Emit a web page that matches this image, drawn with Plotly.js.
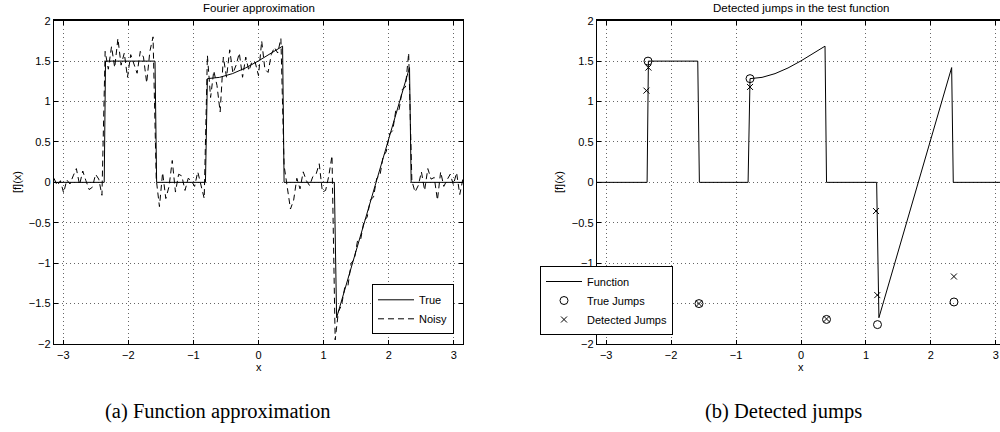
<!DOCTYPE html>
<html>
<head>
<meta charset="utf-8">
<script src="https://cdn.plot.ly/plotly-3.0.1.min.js"></script>
<style>
  html, body { margin: 0; padding: 0; background: #fff; overflow: hidden; }
  #chart { width: 1010px; height: 432px; }
</style>
</head>
<body>
<div id="chart"></div>
<script>
// ---- Data ----
// True test function (vertices of the piecewise curve)
const trueX = [-3.142, -2.37, -2.35, -1.59, -1.565, -0.815, -0.785, -0.6, -0.4, -0.2, 0.0, 0.2, 0.37, 0.393, 1.165, 1.2, 2.32, 2.345, 3.142];
const trueY = [0, 0, 1.5, 1.5, 0, 0, 1.283, 1.299, 1.345, 1.415, 1.503, 1.6, 1.685, 0, 0, -1.675, 1.42, 0, 0];

// Noisy samples
const noisyX = [
  -3.142, -3.092, -3.043, -2.994, -2.945, -2.896, -2.847, -2.798, -2.749, -2.700, -2.651, -2.601, -2.552, -2.503, -2.454, -2.405,
  -2.356, -2.307, -2.258, -2.209, -2.160, -2.111, -2.062, -2.013, -1.963, -1.914, -1.865, -1.816, -1.767, -1.718, -1.669, -1.620,
  -1.571, -1.522, -1.473, -1.424, -1.374, -1.325, -1.276, -1.227, -1.178, -1.129, -1.080, -1.031, -0.982, -0.933, -0.884, -0.834,
  -0.785, -0.736, -0.687, -0.638, -0.589, -0.540, -0.491, -0.442, -0.393, -0.344, -0.295, -0.245, -0.196, -0.147, -0.098, -0.049,
  0.000, 0.049, 0.098, 0.147, 0.196, 0.245, 0.295, 0.344,
  0.393, 0.442, 0.491, 0.540, 0.589, 0.638, 0.687, 0.736, 0.785, 0.834, 0.884, 0.933, 0.982, 1.031, 1.080, 1.129,
  1.178, 1.227, 1.276, 1.325, 1.374, 1.424, 1.473, 1.522, 1.571, 1.620, 1.669, 1.718, 1.767, 1.816, 1.865, 1.914,
  1.963, 2.013, 2.062, 2.111, 2.160, 2.209, 2.258, 2.307,
  2.356, 2.405, 2.454, 2.503, 2.552, 2.601, 2.651, 2.700, 2.749, 2.798, 2.847, 2.896, 2.945, 2.994, 3.043, 3.092, 3.142
];
const noisyY = [
  0.05, -0.04, 0.02, -0.13, 0.03, -0.02, 0.08, 0.17, -0.03, 0.14, 0.02, -0.09, -0.06, 0.10, 0.04, -0.16,
  1.62, 1.40, 1.68, 1.42, 1.78, 1.45, 1.60, 1.30, 1.58, 1.45, 1.35, 1.62, 1.55, 1.23, 1.62, 1.80,
  0.04, -0.30, 0.12, -0.20, -0.05, 0.27, -0.12, 0.10, 0.08, -0.10, 0.05, 0.02, -0.05, 0.13, -0.04, -0.20,
  1.57, 1.05, 1.38, 1.20, 0.87, 1.55, 1.30, 1.64, 1.35, 1.45, 1.60, 1.30, 1.55, 1.38, 1.50, 1.48,
  1.32, 1.75, 1.40, 1.36, 1.58, 1.67, 1.60, 1.78,
  0.21, -0.05, -0.33, -0.22, 0.05, -0.08, 0.13, 0.02, -0.04, 0.07, 0.10, 0.23, -0.12, -0.10, 0.08, 0.33,
  -1.95, -1.60, -1.52, -1.30, -1.28, -1.00, -0.95, -0.72, -0.70, -0.48, -0.43, -0.22, -0.18, 0.05, 0.08, 0.32,
  0.38, 0.60, 0.64, 0.90, 0.90, 1.15, 1.18, 1.60,
  0.02, -0.12, -0.04, 0.13, -0.10, 0.17, 0.04, 0.06, -0.22, 0.13, -0.05, 0.03, 0.10, -0.03, 0.12, -0.15, 0.05
];

// True jump locations and heights
const jumpX = [-2.356, -1.571, -0.785, 0.393, 1.178, 2.356];
const jumpY = [1.5, -1.5, 1.283, -1.696, -1.76, -1.48];

// Detected jumps
const detX = [-2.35, -2.38, -1.571, -0.785, 0.393, 1.155, 1.175, 2.355];
const detY = [1.42, 1.135, -1.5, 1.18, -1.69, -0.355, -1.395, -1.165];

const xTickVals = [-3, -2, -1, 0, 1, 2, 3];
const yTickVals = [-2, -1.5, -1, -0.5, 0, 0.5, 1, 1.5, 2];

// ---- Layout helpers ----
const W = 1010, H = 432;
const px = v => v / W;
const py = v => (H - v) / H;
const FONT = 'Liberation Sans, Arial, Helvetica, sans-serif';
const SERIF = 'Liberation Serif, Times New Roman, serif';

function axisBase(range, ticks) {
  return {
    range: range,
    tickmode: 'array',
    tickvals: ticks,
    ticks: 'inside',
    ticklen: 4,
    tickwidth: 1,
    tickcolor: '#000',
    showline: true,
    linecolor: '#000',
    linewidth: 1.3,
    mirror: 'ticks',
    showgrid: true,
    gridcolor: '#666',
    gridwidth: 1,
    griddash: '1px,3px',
    zeroline: false,
    fixedrange: true,
    tickfont: { family: FONT, size: 11, color: '#000' }
  };
}

const xr = [-Math.PI, Math.PI];
const yr = [-2, 2];
const yTop = py(20.7), yBot = py(344);

const layout = {
  width: W, height: H,
  margin: { l: 0, r: 0, t: 0, b: 0, pad: 0 },
  paper_bgcolor: '#fff',
  plot_bgcolor: '#fff',
  font: { family: FONT, size: 11, color: '#000' },
  xaxis: Object.assign(axisBase(xr, xTickVals), { domain: [px(54), px(463)], anchor: 'y' }),
  yaxis: Object.assign(axisBase(yr, yTickVals), { domain: [yBot, yTop], anchor: 'x' }),
  xaxis2: Object.assign(axisBase(xr, xTickVals), { domain: [px(597), px(1005)], anchor: 'y2' }),
  yaxis2: Object.assign(axisBase(yr, yTickVals), { domain: [yBot, yTop], anchor: 'x2' }),
  legend: {
    x: px(454), xanchor: 'right', y: py(334.3), yanchor: 'bottom',
    bgcolor: '#fff', bordercolor: '#000', borderwidth: 1,
    font: { family: FONT, size: 11, color: '#000' },
    itemwidth: 36,
    tracegroupgap: 0
  },
  legend2: {
    x: px(540), xanchor: 'left', y: py(335), yanchor: 'bottom',
    bgcolor: '#fff', bordercolor: '#000', borderwidth: 1,
    font: { family: FONT, size: 11, color: '#000' },
    itemwidth: 36,
    tracegroupgap: 0
  },
  showlegend: true,
  annotations: [
    { text: 'Fourier approximation', x: px(258.5), y: py(7.5), xref: 'paper', yref: 'paper',
      xanchor: 'center', yanchor: 'middle', showarrow: false, font: { family: FONT, size: 11.5, color: '#000' } },
    { text: 'Detected jumps in the test function', x: px(801), y: py(7.5), xref: 'paper', yref: 'paper',
      xanchor: 'center', yanchor: 'middle', showarrow: false, font: { family: FONT, size: 11.5, color: '#000' } },
    { text: '[f](x)', x: px(17), y: py(182), xref: 'paper', yref: 'paper', textangle: -90,
      xanchor: 'center', yanchor: 'middle', showarrow: false, font: { family: FONT, size: 11, color: '#000' } },
    { text: '[f](x)', x: px(559), y: py(182), xref: 'paper', yref: 'paper', textangle: -90,
      xanchor: 'center', yanchor: 'middle', showarrow: false, font: { family: FONT, size: 11, color: '#000' } },
    { text: 'x', x: px(258.5), y: py(367), xref: 'paper', yref: 'paper',
      xanchor: 'center', yanchor: 'middle', showarrow: false, font: { family: FONT, size: 11, color: '#000' } },
    { text: 'x', x: px(801), y: py(367), xref: 'paper', yref: 'paper',
      xanchor: 'center', yanchor: 'middle', showarrow: false, font: { family: FONT, size: 11, color: '#000' } },
    { text: '(a) Function approximation', x: px(217), y: py(411), xref: 'paper', yref: 'paper',
      xanchor: 'center', yanchor: 'middle', showarrow: false, font: { family: SERIF, size: 20.5, color: '#000' } },
    { text: '(b) Detected jumps', x: px(783), y: py(411), xref: 'paper', yref: 'paper',
      xanchor: 'center', yanchor: 'middle', showarrow: false, font: { family: SERIF, size: 20.5, color: '#000' } }
  ]
};

const traces = [
  { x: trueX, y: trueY, xaxis: 'x', yaxis: 'y', type: 'scatter', mode: 'lines', name: 'True',
    line: { color: '#000', width: 1 }, legend: 'legend', hoverinfo: 'skip' },
  { x: noisyX, y: noisyY, xaxis: 'x', yaxis: 'y', type: 'scatter', mode: 'lines', name: 'Noisy',
    line: { color: '#000', width: 1, dash: '6px,4px' }, legend: 'legend', hoverinfo: 'skip' },
  { x: trueX, y: trueY, xaxis: 'x2', yaxis: 'y2', type: 'scatter', mode: 'lines', name: 'Function',
    line: { color: '#000', width: 1 }, legend: 'legend2', hoverinfo: 'skip' },
  { x: jumpX, y: jumpY, xaxis: 'x2', yaxis: 'y2', type: 'scatter', mode: 'markers', name: 'True Jumps',
    marker: { symbol: 'circle-open', size: 8, color: '#000', line: { width: 1, color: '#000' } },
    legend: 'legend2', hoverinfo: 'skip' },
  { x: detX, y: detY, xaxis: 'x2', yaxis: 'y2', type: 'scatter', mode: 'markers', name: 'Detected Jumps',
    marker: { symbol: 'x-thin-open', size: 6, color: '#000', line: { width: 1, color: '#000' } },
    legend: 'legend2', hoverinfo: 'skip' }
];

Plotly.newPlot('chart', traces, layout, { staticPlot: true, displayModeBar: false });
</script>
</body>
</html>
